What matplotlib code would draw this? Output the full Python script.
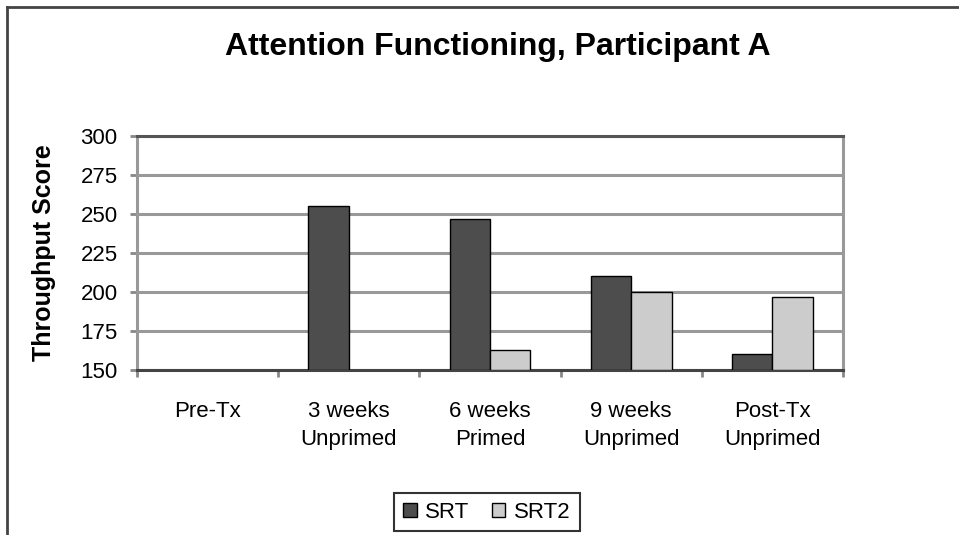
import numpy as np
import matplotlib
matplotlib.use("Agg")
import matplotlib.pyplot as plt
from matplotlib.lines import Line2D

plt.rcParams['font.family'] = ['Liberation Sans', 'DejaVu Sans']

categories = ["Pre-Tx", "3 weeks\nUnprimed", "6 weeks\nPrimed", "9 weeks\nUnprimed", "Post-Tx\nUnprimed"]
srt = [np.nan, 255, 247, 210, 160]
srt2 = [np.nan, np.nan, 163, 200, 197]

fig = plt.figure(figsize=(9.59, 5.35), dpi=100)
ax = fig.add_axes([137/959, 1 - 370/535, (843-137)/959, (370-136)/535])

x = np.arange(len(categories))
w = 1 / 3.5
base = 150
ax.bar(x - w/2, np.array(srt) - base, w, bottom=base, color="#4d4d4d", edgecolor="black", linewidth=1, label="SRT", zorder=3)
ax.bar(x + w/2, np.array(srt2) - base, w, bottom=base, color="#cccccc", edgecolor="black", linewidth=1, label="SRT2", zorder=3)

ax.set_xlim(-0.5, len(categories) - 0.5)
ax.set_ylim(150, 300)
ax.set_yticks(range(150, 301, 25))
ax.set_xticks(np.arange(-0.5, len(categories)), minor=False)
ax.set_xticklabels([])
ax.set_xticks(x, minor=True)
ax.set_xticklabels(categories, minor=True, fontsize=16, linespacing=1.45)
ax.tick_params(axis="x", which="minor", length=0, pad=22)
ax.tick_params(axis="x", which="major", length=5, width=2, color="#888888", direction="out")
ax.tick_params(axis="y", length=5, width=2, color="#888888", labelsize=16, pad=9)

ax.yaxis.grid(True, color="#999999", linewidth=2.2, zorder=0)
for s in ["left", "right"]:
    ax.spines[s].set_color("#999999")
    ax.spines[s].set_linewidth(2.2)
ax.spines["bottom"].set_color("#444444")
ax.spines["bottom"].set_linewidth(2.2)
ax.spines["top"].set_color("#555555")
ax.spines["top"].set_linewidth(2.2)

ax.set_ylabel("Throughput Score", fontsize=18, fontweight="bold")
ax.yaxis.set_label_coords(-81/706, 0.5)
fig.text(498/959, 1 - 47/535, "Attention Functioning, Participant A", ha="center", va="center",
         fontsize=23, fontweight="bold")

leg = fig.legend(loc="center", bbox_to_anchor=(487/959, 1 - 512/535), ncol=2, fontsize=16,
                 frameon=True, fancybox=False, edgecolor="black", handlelength=0.6, handleheight=0.6,
                 handletextpad=0.4, columnspacing=1.0, borderpad=0.4, borderaxespad=0)
leg.get_frame().set_linewidth(1.5)

# outer chart border (left and top edges only visible)
fig.add_artist(Line2D([7/959, 7/959], [0, 1 - 7/535], color="#444444", linewidth=2, transform=fig.transFigure))
fig.add_artist(Line2D([7/959, 1], [1 - 7/535, 1 - 7/535], color="#444444", linewidth=2, transform=fig.transFigure))

fig.savefig("out.png", dpi=100)
